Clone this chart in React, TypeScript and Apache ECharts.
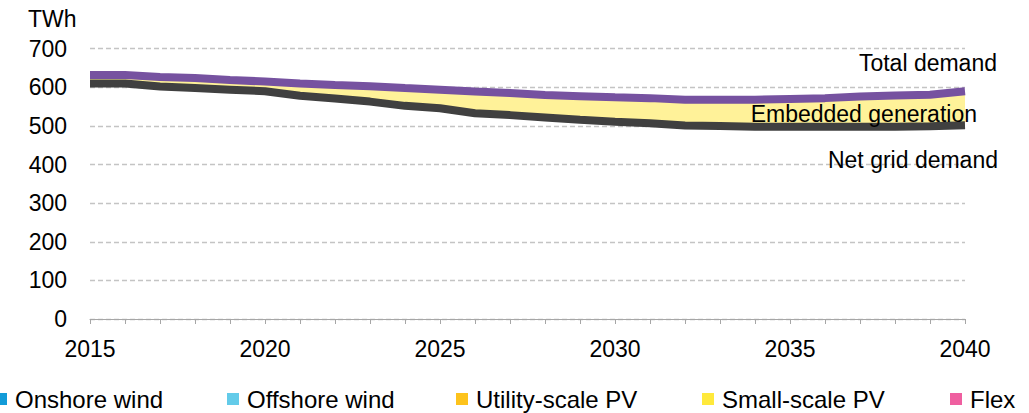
import React, { useEffect, useRef } from "react";
import * as echarts from "echarts";

const years = [
  "2015", "2016", "2017", "2018", "2019", "2020", "2021", "2022", "2023",
  "2024", "2025", "2026", "2027", "2028", "2029", "2030", "2031", "2032",
  "2033", "2034", "2035", "2036", "2037", "2038", "2039", "2040",
];

const totalDemand = [
  632, 632, 627, 624, 619, 615, 610, 606, 603, 598, 594, 589, 585, 580, 577,
  574, 572, 568, 568, 568, 570, 572, 576, 579, 581, 590,
];

const netGridDemand = [
  610, 610, 602, 598, 594, 590, 578, 571, 563, 552, 546, 533, 528, 522, 516,
  511, 507, 501, 500, 498, 498, 498, 498, 498, 499, 502,
];

const legendNames = ["Onshore wind", "Offshore wind", "Utility-scale PV", "Small-scale PV", "Flex"];
const legendColors = ["#129bd8", "#63cbe9", "#fdc31c", "#ffe93b", "#ef5fa0"];
const legendLefts = [-5, 227, 456, 702, 950];

const yTicks = { min: 0, max: 700, interval: 100 };

const FONT = '"Liberation Sans", Arial, sans-serif';

export default function App() {
  const ref = useRef<HTMLDivElement>(null);

  useEffect(() => {
    document.body.style.margin = "0";
    if (!ref.current) return;
    const chart = echarts.init(ref.current, undefined, { renderer: "svg" });

    const embedded = totalDemand.map((t, i) => t - netGridDemand[i]);

    const legendSeries = legendNames.map((name, i) => ({
      name,
      type: "line",
      data: [] as number[],
      itemStyle: { color: legendColors[i] },
      lineStyle: { color: legendColors[i] },
      symbol: "none",
    }));

    const option: any = {
      animation: false,
      textStyle: { fontFamily: FONT },
      grid: { left: 90, right: 64, top: 48.7, bottom: 94, containLabel: false },
      legend: legendNames.map((name, i) => ({
        data: [name],
        left: legendLefts[i],
        top: 387,
        padding: 0,
        itemWidth: 12,
        itemHeight: 12,
        icon: "rect",
        selectedMode: false,
        textStyle: {
          fontSize: 24,
          color: "#000",
          fontFamily: FONT,
          padding: [0, 0, 0, 3],
        },
      })),
      xAxis: {
        type: "category",
        data: years,
        boundaryGap: false,
        axisLine: { show: true, lineStyle: { color: "#a6a6a6", width: 1 } },
        axisTick: {
          show: true,
          interval: 0,
          length: 5,
          lineStyle: { color: "#a6a6a6", width: 1 },
        },
        axisLabel: {
          interval: 4,
          fontSize: 23,
          color: "#000",
          margin: 18,
          fontFamily: FONT,
        },
        splitLine: { show: false },
      },
      yAxis: {
        type: "value",
        min: yTicks.min,
        max: yTicks.max,
        interval: yTicks.interval,
        axisLine: { show: false },
        axisTick: { show: false },
        axisLabel: { fontSize: 23, color: "#000", margin: 23, fontFamily: FONT },
        splitLine: {
          show: true,
          lineStyle: { color: "#c4c4c4", type: [5, 3], width: 1.3 },
        },
      },
      series: [
        {
          name: "base",
          type: "line",
          stack: "g",
          data: netGridDemand,
          symbol: "none",
          lineStyle: { width: 0, opacity: 0 },
          silent: true,
          z: 1,
        },
        {
          name: "Embedded generation",
          type: "line",
          stack: "g",
          data: embedded,
          symbol: "none",
          lineStyle: { width: 0, opacity: 0 },
          areaStyle: { color: "#fff299", opacity: 1 },
          silent: true,
          z: 1,
        },
        {
          name: "Net grid demand",
          type: "line",
          data: netGridDemand,
          symbol: "none",
          lineStyle: { width: 8, color: "#404040" },
          itemStyle: { color: "#404040" },
          z: 2,
        },
        {
          name: "Total demand",
          type: "line",
          data: totalDemand,
          symbol: "none",
          lineStyle: { width: 8, color: "#7652a0" },
          itemStyle: { color: "#7652a0" },
          z: 3,
        },
        ...legendSeries,
      ],
      graphic: [
        {
          type: "text",
          left: 28,
          top: 7,
          style: { text: "TWh", font: `23px ${FONT}`, fill: "#000" },
        },
        {
          type: "text",
          x: 997,
          y: 63,
          style: {
            text: "Total demand",
            font: `23px ${FONT}`,
            fill: "#000",
            textAlign: "right",
            textVerticalAlign: "middle",
          },
          z: 10,
        },
        {
          type: "text",
          x: 977,
          y: 114,
          style: {
            text: "Embedded generation",
            font: `23px ${FONT}`,
            fill: "#000",
            textAlign: "right",
            textVerticalAlign: "middle",
          },
          z: 10,
        },
        {
          type: "text",
          x: 998,
          y: 160,
          style: {
            text: "Net grid demand",
            font: `23px ${FONT}`,
            fill: "#000",
            textAlign: "right",
            textVerticalAlign: "middle",
          },
          z: 10,
        },
      ],
    };

    chart.setOption(option);
    return () => chart.dispose();
  }, []);

  return <div ref={ref} style={{ width: 1029, height: 413 }} />;
}
